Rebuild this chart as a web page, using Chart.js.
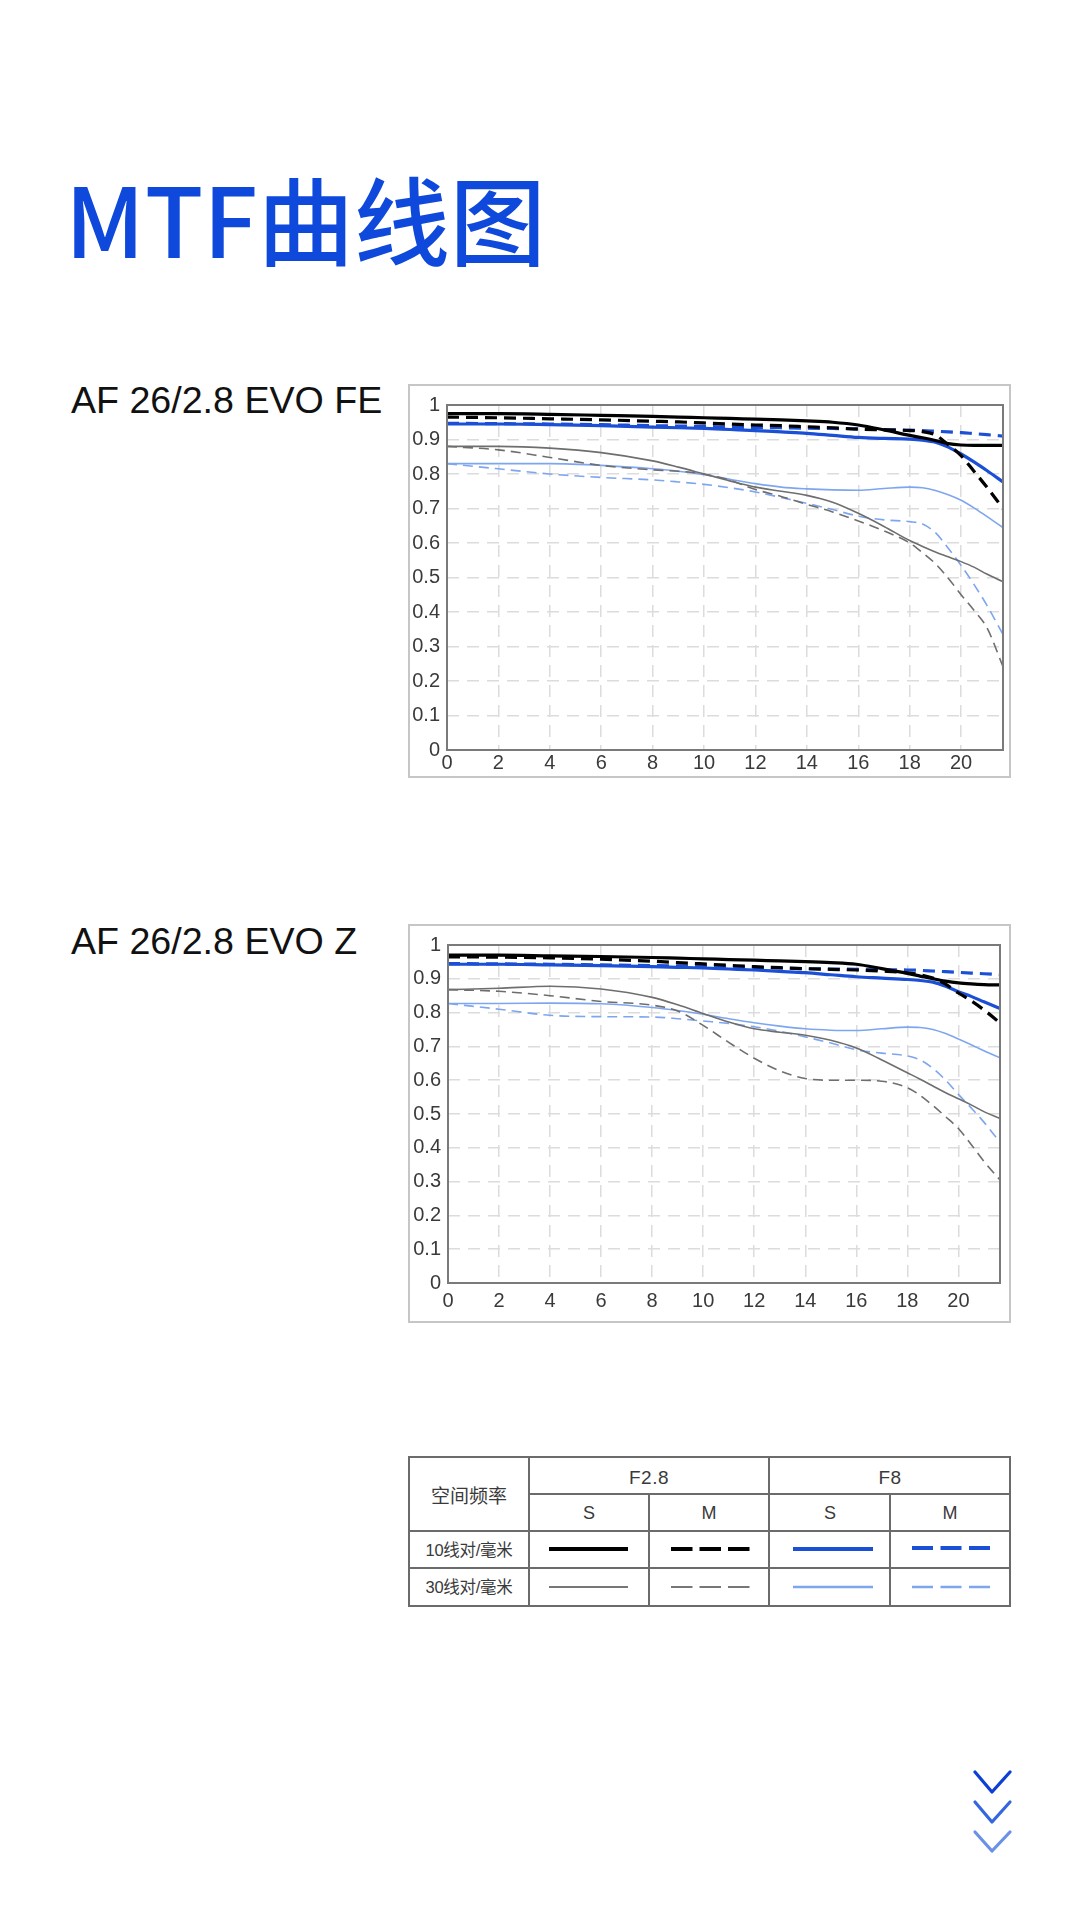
<!DOCTYPE html>
<html>
<head>
<meta charset="utf-8">
<script src="https://cdn.jsdelivr.net/npm/chart.js@4.4.1/dist/chart.umd.min.js"></script>
<style>
  html, body { margin: 0; padding: 0; background: #fff; }
  body { width: 1080px; height: 1919px; position: relative; overflow: hidden; }
  .title {
    position: absolute; left: 65px; top: 157px;
    font-family: "Noto Sans CJK SC", sans-serif; font-weight: 500;
    font-size: 96px; line-height: 120px; color: #0e49dc; white-space: nowrap;
  }
  .lens {
    position: absolute; left: 71px;
    font-family: "Liberation Sans", Arial, sans-serif;
    font-size: 37.6px; line-height: 37px; color: #111; white-space: nowrap;
  }
  .box { position: absolute; border: 2px solid #c6c6c6; box-sizing: border-box; }
  .box canvas { display: block; }
  svg { position: absolute; overflow: visible; }
</style>
</head>
<body>
<div class="title">MTF曲线图</div>
<div class="lens" style="top:382px">AF 26/2.8 EVO FE</div>
<div class="lens" style="top:923px">AF 26/2.8 EVO Z</div>

<div class="box" style="left:408px; top:384px; width:603px; height:394px;">
  <canvas id="mtfFE" width="599" height="390"></canvas>
</div>
<div class="box" style="left:408px; top:924px; width:603px; height:399px;">
  <canvas id="mtfZ" width="599" height="395"></canvas>
</div>

<svg style="left:400px; top:1450px" width="620" height="170" font-family="'Liberation Sans', 'Noto Sans CJK SC', sans-serif" fill="#3a3a3a">
  <g stroke="#6b6b6b" stroke-width="2" fill="none">
    <rect x="9" y="7" width="601" height="149"/>
    <line x1="129" y1="44" x2="610" y2="44"/>
    <line x1="9" y1="81" x2="610" y2="81"/>
    <line x1="9" y1="118" x2="610" y2="118"/>
    <line x1="129" y1="7" x2="129" y2="156"/>
    <line x1="369" y1="7" x2="369" y2="156"/>
    <line x1="249" y1="44" x2="249" y2="156"/>
    <line x1="490" y1="44" x2="490" y2="156"/>
  </g>
  <g text-anchor="middle" dominant-baseline="central">
    <text x="69" y="46" font-size="19">空间频率</text>
    <text x="249" y="27" font-size="19" letter-spacing="0.5">F2.8</text>
    <text x="490" y="27" font-size="19" letter-spacing="0.5">F8</text>
    <text x="189" y="63" font-size="18">S</text>
    <text x="309" y="63" font-size="18">M</text>
    <text x="430" y="63" font-size="18">S</text>
    <text x="550" y="63" font-size="18">M</text>
    <text x="69" y="100" font-size="16.5" letter-spacing="-0.3">10线对/毫米</text>
    <text x="69" y="137" font-size="16.5" letter-spacing="-0.3">30线对/毫米</text>
  </g>
  <g fill="none">
    <line x1="149" y1="99" x2="228" y2="99" stroke="#000" stroke-width="4"/>
    <line x1="271" y1="99" x2="350" y2="99" stroke="#000" stroke-width="4" stroke-dasharray="21.5 7"/>
    <line x1="393" y1="99" x2="473" y2="99" stroke="#1a4fd6" stroke-width="4"/>
    <line x1="512" y1="98" x2="590" y2="98" stroke="#1a4fd6" stroke-width="4" stroke-dasharray="21 7.5"/>
    <line x1="149" y1="137" x2="228" y2="137" stroke="#777" stroke-width="2"/>
    <line x1="271" y1="137" x2="350" y2="137" stroke="#777" stroke-width="2" stroke-dasharray="21.5 7"/>
    <line x1="393" y1="137" x2="473" y2="137" stroke="#7ea6f0" stroke-width="2.5"/>
    <line x1="512" y1="137" x2="590" y2="137" stroke="#7ea6f0" stroke-width="2.5" stroke-dasharray="21 7.5"/>
  </g>
</svg>

<svg style="left:960px; top:1760px" width="60" height="100" fill="none" stroke-width="3.2" stroke-linecap="round" stroke-linejoin="round">
  <polyline points="15,12 32,32 50,12" stroke="#0d3fd6"/>
  <polyline points="15,42 32,62 50,42" stroke="#3566e0"/>
  <polyline points="15,72 32,91 50,72" stroke="#6b90e8"/>
</svg>

<script>
// field position, mm from image centre
const X = [0, 2, 4, 6, 8, 9, 10, 11, 12, 13, 14, 15, 16, 17, 18, 18.5, 19, 19.5, 20, 20.5, 21, 21.63];
const yTicks = [0, 0.1, 0.2, 0.3, 0.4, 0.5, 0.6, 0.7, 0.8, 0.9, 1];

// AF 26/2.8 EVO FE
const feS10F28 = [0.975, 0.975, 0.973, 0.970, 0.967, 0.965, 0.963, 0.961, 0.959, 0.957, 0.954, 0.950, 0.942, 0.928, 0.912, 0.905, 0.897, 0.888, 0.884, 0.883, 0.883, 0.883];
const feM10F28 = [0.965, 0.963, 0.960, 0.957, 0.953, 0.951, 0.948, 0.945, 0.942, 0.940, 0.937, 0.934, 0.930, 0.928, 0.926, 0.923, 0.913, 0.885, 0.853, 0.808, 0.762, 0.700];
const feS10F8  = [0.945, 0.945, 0.943, 0.940, 0.936, 0.934, 0.932, 0.929, 0.926, 0.922, 0.918, 0.912, 0.906, 0.903, 0.901, 0.898, 0.892, 0.878, 0.858, 0.835, 0.810, 0.777];
const feM10F8  = [0.947, 0.946, 0.945, 0.943, 0.940, 0.939, 0.938, 0.936, 0.935, 0.934, 0.933, 0.932, 0.931, 0.929, 0.927, 0.926, 0.924, 0.922, 0.920, 0.917, 0.914, 0.910];
const feS30F28 = [0.880, 0.880, 0.875, 0.862, 0.838, 0.820, 0.800, 0.780, 0.762, 0.750, 0.738, 0.718, 0.686, 0.648, 0.607, 0.590, 0.574, 0.560, 0.546, 0.530, 0.510, 0.488];
const feM30F28 = [0.880, 0.870, 0.848, 0.825, 0.812, 0.808, 0.800, 0.782, 0.755, 0.735, 0.712, 0.690, 0.664, 0.635, 0.600, 0.572, 0.540, 0.498, 0.450, 0.405, 0.355, 0.242];
const feS30F8  = [0.830, 0.830, 0.830, 0.825, 0.815, 0.808, 0.798, 0.785, 0.772, 0.762, 0.757, 0.754, 0.753, 0.758, 0.762, 0.760, 0.752, 0.740, 0.724, 0.702, 0.677, 0.645];
const feM30F8  = [0.830, 0.815, 0.800, 0.790, 0.783, 0.777, 0.770, 0.760, 0.748, 0.732, 0.715, 0.697, 0.678, 0.667, 0.662, 0.655, 0.630, 0.585, 0.535, 0.480, 0.420, 0.335];

// AF 26/2.8 EVO Z
const zS10F28 = [0.970, 0.970, 0.968, 0.966, 0.963, 0.961, 0.959, 0.957, 0.955, 0.953, 0.951, 0.948, 0.943, 0.930, 0.916, 0.908, 0.900, 0.893, 0.888, 0.885, 0.883, 0.882];
const zM10F28 = [0.965, 0.964, 0.962, 0.958, 0.952, 0.948, 0.944, 0.940, 0.936, 0.933, 0.930, 0.928, 0.926, 0.923, 0.918, 0.912, 0.902, 0.884, 0.858, 0.835, 0.808, 0.770];
const zS10F8  = [0.943, 0.943, 0.941, 0.939, 0.936, 0.934, 0.932, 0.929, 0.926, 0.922, 0.918, 0.912, 0.906, 0.902, 0.898, 0.895, 0.890, 0.878, 0.862, 0.848, 0.832, 0.812];
const zM10F8  = [0.945, 0.944, 0.943, 0.941, 0.939, 0.938, 0.937, 0.935, 0.934, 0.932, 0.930, 0.929, 0.928, 0.927, 0.926, 0.925, 0.923, 0.921, 0.919, 0.917, 0.915, 0.912];
const zS30F28 = [0.868, 0.872, 0.878, 0.870, 0.845, 0.823, 0.797, 0.772, 0.752, 0.742, 0.733, 0.718, 0.695, 0.660, 0.622, 0.603, 0.583, 0.563, 0.545, 0.527, 0.507, 0.487];
const zM30F28 = [0.868, 0.863, 0.850, 0.833, 0.822, 0.805, 0.762, 0.712, 0.665, 0.628, 0.605, 0.600, 0.600, 0.597, 0.578, 0.555, 0.525, 0.492, 0.457, 0.410, 0.360, 0.305];
const zS30F8  = [0.827, 0.827, 0.828, 0.826, 0.815, 0.806, 0.795, 0.782, 0.770, 0.760, 0.752, 0.748, 0.747, 0.752, 0.757, 0.756, 0.750, 0.738, 0.722, 0.705, 0.687, 0.666];
const zM30F8  = [0.827, 0.810, 0.792, 0.788, 0.787, 0.782, 0.775, 0.768, 0.758, 0.745, 0.728, 0.710, 0.690, 0.680, 0.672, 0.660, 0.635, 0.600, 0.558, 0.518, 0.476, 0.416];

const BLACK = '#000000';
const BLUE = '#1a4fd6';
const GRAY = '#6e6e6e';
const LIGHT_BLUE = '#7ea6f0';
const TICK_FONT = { family: '"Liberation Sans", Arial, sans-serif', size: 20 };

const pts = arr => X.map((x, i) => ({ x, y: arr[i] }));

const line = (label, arr, color, width, dash) => ({
  label,
  data: pts(arr),
  borderColor: color,
  borderWidth: width,
  borderDash: dash || [],
  pointRadius: 0,
  fill: false,
  cubicInterpolationMode: 'monotone'
});

// frame around the plot area
const plotFrame = {
  id: 'plotFrame',
  afterDraw(chart) {
    const { ctx, chartArea: a } = chart;
    ctx.save();
    ctx.strokeStyle = '#7a7a7a';
    ctx.lineWidth = 2;
    ctx.strokeRect(a.left, a.top, a.right - a.left, a.bottom - a.top);
    ctx.restore();
  }
};

function makeChart(id, series, pad) {
  const ctx = document.getElementById(id).getContext('2d');
  return new Chart(ctx, {
    type: 'line',
    data: {
      datasets: [
        line('F2.8 S 10', series[0], BLACK, 3.2),
        line('F2.8 M 10', series[1], BLACK, 3.2, [12, 7]),
        line('F8 S 10', series[2], BLUE, 3.2),
        line('F8 M 10', series[3], BLUE, 3.2, [12, 7]),
        line('F2.8 S 30', series[4], GRAY, 1.6),
        line('F2.8 M 30', series[5], GRAY, 1.6, [10, 6]),
        line('F8 S 30', series[6], LIGHT_BLUE, 1.6),
        line('F8 M 30', series[7], LIGHT_BLUE, 1.6, [10, 6])
      ]
    },
    options: {
      responsive: false,
      animation: false,
      devicePixelRatio: 1,
      layout: { padding: { left: 0, top: pad.top, right: pad.right, bottom: 0 } },
      plugins: { legend: { display: false }, tooltip: { enabled: false } },
      scales: {
        x: {
          type: 'linear',
          min: 0,
          max: X[X.length - 1],
          afterFit: s => { s.height = pad.xh; },
          grid: { color: '#dcdcdc', lineWidth: 1.5, drawTicks: false },
          border: { display: false, dash: [12, 8] },
          ticks: {
            stepSize: 2,
            includeBounds: false,
            padding: pad.xpad,
            color: '#3a3a3a',
            font: TICK_FONT
          }
        },
        y: {
          min: 0,
          max: 1,
          afterFit: s => { s.width = pad.yw; },
          afterBuildTicks: s => { s.ticks = yTicks.map(v => ({ value: v })); },
          grid: { color: '#dcdcdc', lineWidth: 1.5, drawTicks: false },
          border: { display: false, dash: [12, 8] },
          ticks: {
            padding: 7,
            color: '#3a3a3a',
            font: TICK_FONT,
            callback: v => String(Math.round(v * 10) / 10)
          }
        }
      }
    },
    plugins: [plotFrame]
  });
}

makeChart('mtfFE', [feS10F28, feM10F28, feS10F8, feM10F8, feS30F28, feM30F28, feS30F8, feM30F8],
  { top: 12, right: 6, yw: 37, xh: 26, xpad: 1 });
makeChart('mtfZ', [zS10F28, zM10F28, zS10F8, zM10F8, zS30F28, zM30F28, zS30F8, zM30F8],
  { top: 11, right: 9, yw: 38, xh: 38, xpad: 6 });
</script>
</body>
</html>
